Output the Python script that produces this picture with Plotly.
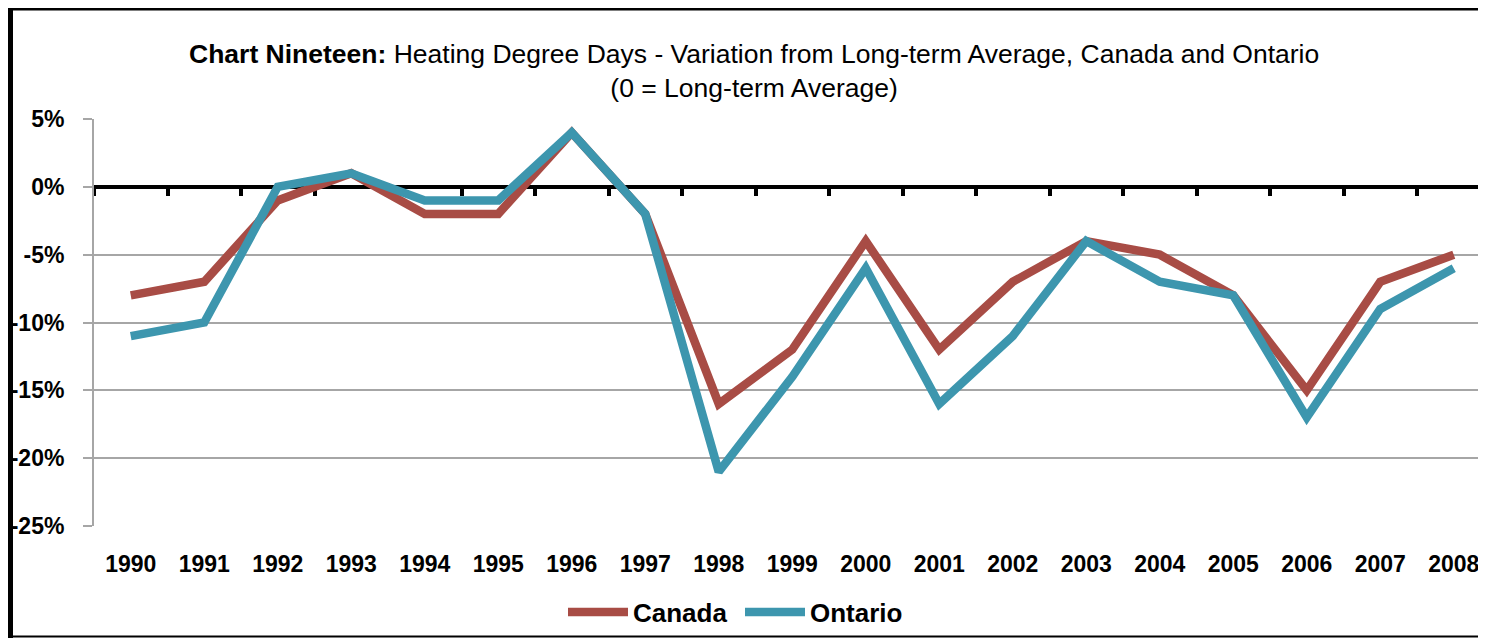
import plotly.graph_objects as go

years = list(range(1990, 2009))
canada = [-8, -7, -1, 1, -2, -2, 4, -2, -16, -12, -4, -12, -7, -4, -5, -8, -15, -7, -5]
ontario = [-11, -10, 0, 1, -1, -1, 4, -2, -21, -14, -6, -16, -11, -4, -7, -8, -17, -9, -6]
y_ticks = [5, 0, -5, -10, -15, -20, -25]
y_tick_labels = ["5%", "0%", "-5%", "-10%", "-15%", "-20%", "-25%"]

# Page geometry (browser window px); the page body has an 8px default margin
PAGE_W, PAGE_H = 1486, 639
OFF = 8
W, H = PAGE_W - OFF, PAGE_H - OFF
L, R = 94 - OFF, 1486 - OFF      # plot area left/right (figure px)
T, B = 119.3 - OFF, 526.0 - OFF  # plot area top/bottom (figure px)
band = 73.5                      # px per category

FONT = "Liberation Sans, Arial, sans-serif"
RED = "#A84C45"
BLUE = "#3D96AE"
GRID = "#A6A6A6"


def px_x(p):
    """page px -> paper x"""
    return (p - OFF - L) / (R - L)


def px_y(p):
    """page px -> paper y"""
    return (B - (p - OFF)) / (B - T)


x_hi = years[0] - 0.5 + (R - L) / band

fig = go.Figure()
fig.add_trace(go.Scatter(x=years, y=canada, name="Canada", mode="lines",
                         line=dict(color=RED, width=8.5)))
fig.add_trace(go.Scatter(x=years, y=ontario, name="Ontario", mode="lines",
                         line=dict(color=BLUE, width=8.5)))
# helper trace so the zero-crossing axis is drawn
fig.add_trace(go.Scatter(x=[None], y=[None], xaxis="x2", showlegend=False,
                         hoverinfo="skip"))

boundaries = [y - 0.5 for y in years] + [years[-1] + 0.5]

fig.update_layout(
    width=W, height=H,
    margin=dict(l=L, r=W - R, t=T, b=H - B, pad=0),
    paper_bgcolor="white", plot_bgcolor="white",
    font=dict(family=FONT, color="black"),
    showlegend=True,
    legend=dict(orientation="h", x=px_x(563), xanchor="left",
                y=px_y(612), yanchor="middle",
                font=dict(family=FONT, size=26, color="black", weight="bold"),
                itemwidth=60, entrywidth=102, entrywidthmode="pixels",
                tracegroupgap=0, bgcolor="rgba(0,0,0,0)"),
    xaxis=dict(range=[years[0] - 0.5, x_hi], tickmode="array", tickvals=years,
               ticktext=[str(y) for y in years], showgrid=False, zeroline=False,
               showline=False, ticks="", ticklabelstandoff=22,
               tickfont=dict(family=FONT, size=23, color="black", weight="bold")),
    xaxis2=dict(range=[years[0] - 0.5, x_hi], overlaying="x", anchor="free",
                position=(0 - y_ticks[-1]) / (y_ticks[0] - y_ticks[-1]),
                side="bottom", tickmode="array", tickvals=boundaries,
                showticklabels=False, ticks="outside", ticklen=7, tickwidth=4,
                tickcolor="black", showline=True, linecolor="black", linewidth=4,
                showgrid=False, zeroline=False, layer="below traces"),
    yaxis=dict(range=[y_ticks[-1], y_ticks[0]], tickmode="array", tickvals=y_ticks,
               ticktext=y_tick_labels, showgrid=True, gridcolor=GRID, gridwidth=2,
               zeroline=False, showline=True, linecolor=GRID, linewidth=2,
               ticks="outside", ticklen=9, tickwidth=2, tickcolor=GRID,
               ticklabelstandoff=14,
               tickfont=dict(family=FONT, size=23, color="black", weight="bold")),
)

# Title
fig.add_annotation(
    xref="paper", yref="paper", x=px_x(754), y=px_y(71), xanchor="center",
    yanchor="middle", showarrow=False, align="center",
    text="<b>Chart Nineteen:</b> Heating Degree Days - Variation from Long-term Average, Canada and Ontario<br>(0 = Long-term Average)",
    font=dict(family=FONT, size=26.5, color="black", lineposition="none"),
)

# Frame
fig.add_shape(type="line", xref="paper", yref="paper", x0=px_x(10.5), x1=px_x(10.5),
              y0=px_y(8), y1=px_y(638), line=dict(color="black", width=5))
fig.add_shape(type="line", xref="paper", yref="paper", x0=px_x(8), x1=px_x(PAGE_W + 2),
              y0=px_y(OFF + 1.5), y1=px_y(OFF + 1.5), line=dict(color="black", width=3))
fig.add_shape(type="line", xref="paper", yref="paper", x0=px_x(8), x1=px_x(PAGE_W + 2),
              y0=px_y(636.5), y1=px_y(636.5), line=dict(color="black", width=2))

fig.write_html("out.html")
